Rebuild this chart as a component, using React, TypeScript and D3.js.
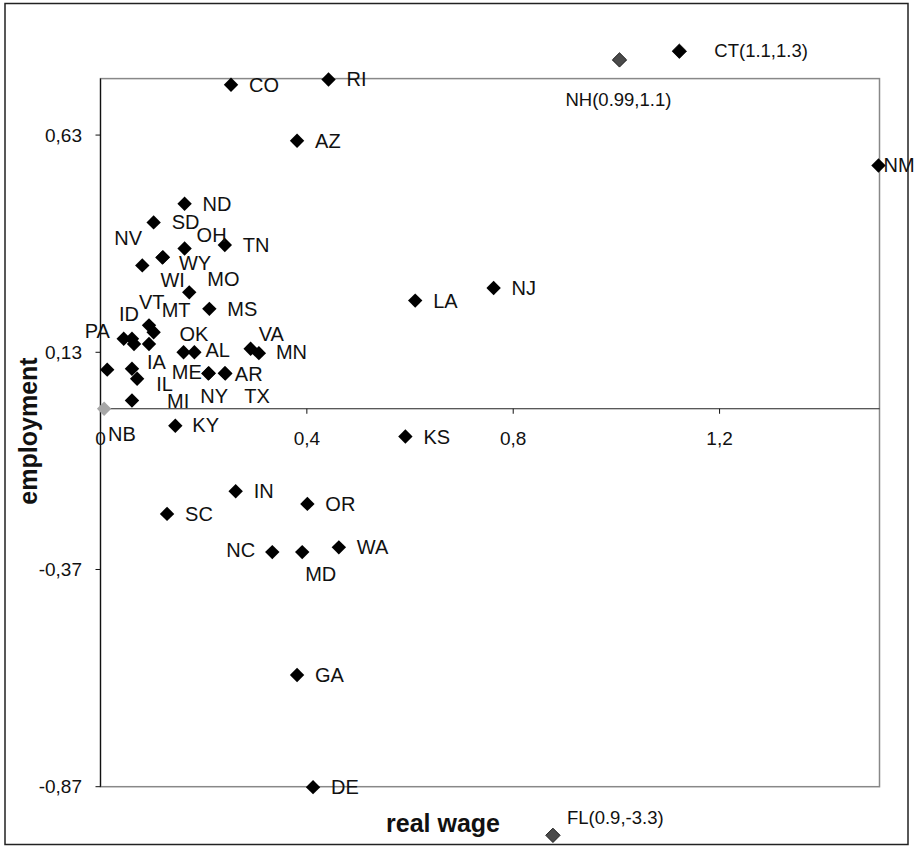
import React from 'react';
import * as d3 from 'd3';

// ---- data ----
const states = ["CO","RI","AZ","ND","SD","OH","TN","WY","NV","WI","MO","MS","LA","NJ","NM",
  "VT","MT","PA","ID","IA","IL","MI","OK","AL","VA","MN","ME","AR","NY","TX","KY","KS",
  "IN","SC","OR","NC","MD","WA","GA","DE"];
const wage = [0.253,0.442,0.381,0.163,0.103,0.163,0.241,0.121,0.081,0.120,0.172,0.211,0.610,0.762,1.508,
  0.094,0.103,0.045,0.061,0.061,0.071,0.061,0.161,0.182,0.291,0.307,0.210,0.241,0.209,0.242,0.145,0.591,
  0.262,0.129,0.401,0.333,0.391,0.462,0.381,0.412];
const employment = [0.746,0.758,0.617,0.472,0.429,0.369,0.377,0.349,0.330,0.348,0.268,0.230,0.249,0.278,0.560,
  0.192,0.176,0.161,0.161,0.092,0.069,0.019,0.130,0.130,0.138,0.128,0.082,0.082,0.081,0.081,-0.039,-0.064,
  -0.190,-0.242,-0.219,-0.330,-0.330,-0.319,-0.613,-0.871];

// markers without a visible label
const unlabeledWage = [0.094,0.065,0.013];
const unlabeledEmployment = [0.149,0.149,0.090];

// Nebraska (reference point, grey)
const refName = "NB";
const refWage = 0.007;
const refEmployment = 0.0;

// outliers drawn outside the plot area, labelled with their true values
const outlierNames = ["CT","NH","FL"];
const outlierWage = [1.1, 0.99, 0.9];
const outlierEmployment = [1.3, 1.1, -3.3];
const outlierShownWage = [1.122, 1.006, 0.877];
const outlierShownEmployment = [0.823, 0.803, -0.982];

const xTicks = [0, 0.4, 0.8, 1.2];
const yTicks = [-0.87, -0.37, 0.13, 0.63];

// ---- layout / style ----
const W = 915, H = 853;
const FONT = "'Liberation Sans', Arial, Helvetica, sans-serif";
const DEFAULT_OFFSET: [number, number] = [18, 0];
const labelOffsets: Record<string, [number, number]> = {
  OH: [12, -13], NV: [-28, -27], WY: [16, 6], WI: [-2, 22], MO: [18, -13],
  NM: [5, 0], PA: [-39, -8], ID: [-13, -25], VT: [-10, -23], MT: [8, -22],
  IA: [15, -7], IL: [19, 5], MI: [35, 0], OK: [-4, -18], AL: [11, -2],
  VA: [8, -15], MN: [17, -1], ME: [-37, -1], AR: [10, 1], NY: [-8, 22],
  TX: [19, 22], KY: [17, -1], NC: [-46, -2], MD: [3, 22],
  NB: [4, 25], CT: [35, -1], NH: [-54, 40], FL: [14, -18],
};

const R = 7.2;
const diamond = `M0,${-R}L${R},0L0,${R}L${-R},0Z`;
const fmt = (v: number) => (v === 0 ? "0" : d3.format(".2~f")(v).replace(".", ",").replace("\u2212", "-"));

export default function App() {
  const x = d3.scaleLinear().domain([0, 1.51]).range([100.5, 879.5]);
  const y = d3.scaleLinear().domain([-0.87, 0.76]).range([786.7, 78.6]);
  const [x0, x1] = x.range();
  const [yb, yt] = y.range();
  const off = (n: string) => labelOffsets[n] || DEFAULT_OFFSET;

  return (
    <svg width={W} height={H} style={{ position: 'absolute', left: 0, top: 0, display: 'block' }}
      fontFamily={FONT}>
      <rect x={0} y={0} width={W} height={H} fill="#fff" />
      {/* outer frame */}
      <rect x={5} y={3.5} width={903} height={841} fill="none" stroke="#222" strokeWidth={1.5} />
      {/* plot frame */}
      <rect x={x0} y={yt} width={x1 - x0} height={yb - yt} fill="none" stroke="#888" strokeWidth={1.5} />
      {/* axes */}
      <line x1={x0} x2={x0} y1={yt} y2={yb} stroke="#111" strokeWidth={1.2} />
      <line x1={x0} x2={x1} y1={y(0)} y2={y(0)} stroke="#222" strokeWidth={1.2} />
      {yTicks.map(t => (
        <g key={'yt' + t}>
          <line x1={x0 - 5} x2={x0} y1={y(t)} y2={y(t)} stroke="#111" />
          <text x={82} y={y(t)} fontSize={19} textAnchor="end" dominantBaseline="central" fill="#111">{fmt(t)}</text>
        </g>
      ))}
      {xTicks.map(t => (
        <g key={'xt' + t}>
          <line x1={x(t)} x2={x(t)} y1={y(0)} y2={y(0) + 5} stroke="#111" />
          <text x={x(t)} y={y(0) + 30} fontSize={19} textAnchor="middle" dominantBaseline="central" fill="#111">{fmt(t)}</text>
        </g>
      ))}
      {/* axis titles */}
      <text x={443} y={832} fontSize={25} fontWeight="bold" textAnchor="middle" fill="#111">real wage</text>
      <text transform="translate(37,431) rotate(-90)" fontSize={25} fontWeight="bold" textAnchor="middle" fill="#111">employment</text>

      {/* unlabeled markers */}
      {unlabeledWage.map((w, i) => (
        <path key={'u' + i} d={diamond} transform={`translate(${x(w)},${y(unlabeledEmployment[i])})`} fill="#000" />
      ))}
      {/* reference point */}
      <path d={diamond} transform={`translate(${x(refWage)},${y(refEmployment)})`} fill="#a6a6a6" />
      <text x={x(refWage) + off(refName)[0]} y={y(refEmployment) + off(refName)[1]} fontSize={20}
        dominantBaseline="central" fill="#111">{refName}</text>

      {/* states */}
      {states.map((s, i) => (
        <path key={'m' + s} d={diamond} transform={`translate(${x(wage[i])},${y(employment[i])})`} fill="#000" />
      ))}
      {states.map((s, i) => (
        <text key={'l' + s} x={x(wage[i]) + off(s)[0]} y={y(employment[i]) + off(s)[1]} fontSize={20}
          dominantBaseline="central" fill="#111">{s}</text>
      ))}

      {/* outliers */}
      {outlierNames.map((n, i) => (
        <g key={'o' + n}>
          <path d={diamond} transform={`translate(${x(outlierShownWage[i])},${y(outlierShownEmployment[i])})`}
            fill={i === 0 ? "#000" : "#4a4a4a"} stroke="#000" strokeWidth={0.8} />
          <text x={x(outlierShownWage[i]) + off(n)[0]} y={y(outlierShownEmployment[i]) + off(n)[1]} fontSize={18.5}
            dominantBaseline="central" fill="#111">{`${n}(${outlierWage[i]},${outlierEmployment[i]})`}</text>
        </g>
      ))}
    </svg>
  );
}
